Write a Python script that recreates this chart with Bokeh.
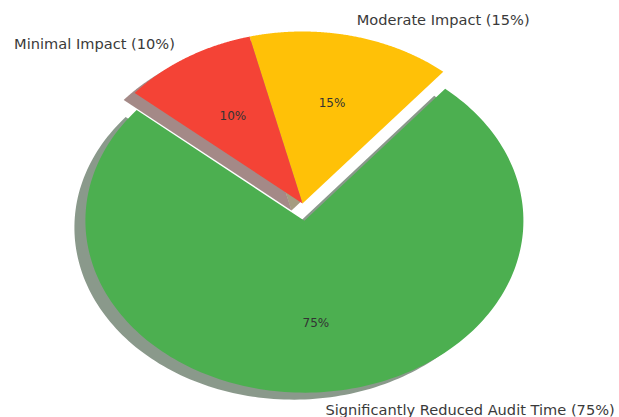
import numpy as np
from bokeh.plotting import figure
from bokeh.models import Range1d, ColumnDataSource
from bokeh.core.properties import value
from bokeh.embed import file_html
from bokeh.resources import INLINE

# ---- data ----
categories = ["Significantly Reduced Audit Time", "Moderate Impact", "Minimal Impact"]
shares = [75, 15, 10]
colors = ["#4CAF50", "#FFC107", "#F44336"]
explode = [0.1, 0.0, 0.0]
start_angle = 140.0

# ---- layout (pie radius = 1 in data units) ----
W, H = 619, 417
cx_px, cy_px, rx_px, ry_px = 302.0, 203.0, 219.0, 172.0

p = figure(width=W, height=H, output_backend="svg", toolbar_location=None,
           x_range=Range1d(-cx_px / rx_px, (W - cx_px) / rx_px),
           y_range=Range1d(-(H - cy_px) / ry_px, cy_px / ry_px),
           min_border=0)
p.axis.visible = False
p.grid.visible = False
p.outline_line_color = None
p.background_fill_color = "white"
p.border_fill_color = "white"

total = float(sum(shares))
sh_dx, sh_dy = -11.0 / rx_px, -7.0 / ry_px

wx, wy, sx, sy, scol = [], [], [], [], []
lab_x, lab_y, lab_t, lab_align = [], [], [], []
pct_x, pct_y, pct_t = [], [], []

theta = start_angle
for cat, v, c, ex in zip(categories, shares, colors, explode):
    t1 = theta
    t2 = theta + 360.0 * v / total
    tm = np.deg2rad((t1 + t2) / 2.0)
    ox, oy = ex * np.cos(tm), ex * np.sin(tm)
    ang = np.deg2rad(np.linspace(t1, t2, 200))
    xs = np.concatenate([[ox], ox + np.cos(ang), [ox]])
    ys = np.concatenate([[oy], oy + np.sin(ang), [oy]])
    wx.append(list(xs)); wy.append(list(ys))
    sx.append(list(xs + sh_dx)); sy.append(list(ys + sh_dy))
    rgb = tuple(int(c[i:i + 2], 16) for i in (1, 3, 5))
    scol.append("#%02x%02x%02x" % tuple(int(0.3 * k) for k in rgb))
    lab_x.append(ox + 1.1 * np.cos(tm)); lab_y.append(oy + 1.1 * np.sin(tm))
    lab_t.append(f"{cat} ({v}%)")
    lab_align.append("left" if np.cos(tm) >= 0 else "right")
    pct_x.append(ox + 0.6 * np.cos(tm)); pct_y.append(oy + 0.6 * np.sin(tm))
    pct_t.append(f"{v}%")
    theta = t2

# shadows under all wedges
p.patches(sx, sy, fill_color=scol, fill_alpha=0.5, line_color=None)
p.patches(wx, wy, fill_color=colors, line_color=None)

lab_src = ColumnDataSource(dict(x=lab_x, y=lab_y, t=lab_t, a=lab_align))
p.text(x="x", y="y", text="t", text_align="a", source=lab_src,
       text_baseline="middle", text_font=value("DejaVu Sans"),
       text_font_size="14.6px", text_color="#3a3a3a")

pct_src = ColumnDataSource(dict(x=pct_x, y=pct_y, t=pct_t))
p.text(x="x", y="y", text="t", source=pct_src, text_align="center",
       text_baseline="middle", text_font=value("DejaVu Sans"),
       text_font_size="12px", text_color="#333333")

open("out.html", "w").write(file_html(p, INLINE))
